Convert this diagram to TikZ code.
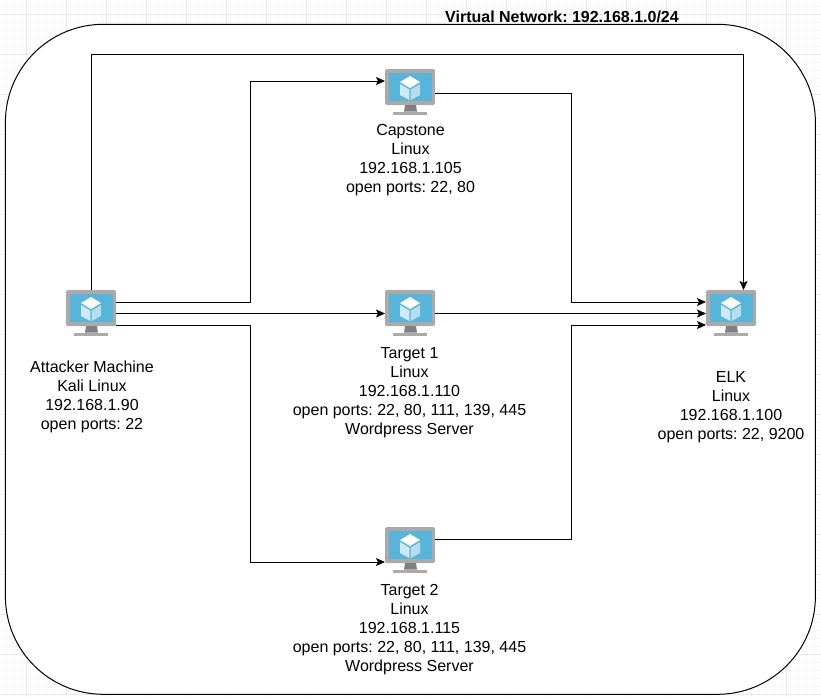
\documentclass[tikz,border=0pt]{standalone}
\usepackage{fontspec}
\setmainfont{Liberation Sans}
\usetikzlibrary{arrows.meta}
\definecolor{gridmajor}{RGB}{232,232,232}
\definecolor{gridminor}{RGB}{246,246,246}
\definecolor{screenblue}{RGB}{89,180,217}
\definecolor{bezel}{RGB}{170,170,170}
\definecolor{standgray}{RGB}{128,128,128}
\frenchspacing
\tikzset{
  x=1pt,y=-1pt,
  conn/.style={draw=black,line width=1pt,-{Stealth[length=9pt,width=8pt,inset=2pt]}},
  lbl/.style={align=center,font=\fontsize{16}{19}\selectfont,inner sep=0pt,text=black,anchor=north},
  host/.style={minimum width=50pt,minimum height=50pt,inner sep=0pt,draw=none},
  vnet/.style={draw=black,line width=1pt,fill=white,rounded corners=98pt},
}
\newcommand{\drawhost}[3]{%
  \node[host] (#1) at (#2,#3) {};
  \begin{scope}[shift={(#2,#3)}]
    \fill[bezel,rounded corners=1.5pt] (-25,-25) rectangle (25,11);
    \fill[screenblue] (-21,-21) rectangle (22,7);
    \fill[standgray] (-5,11) -- (6,11) -- (7,17.7) -- (-6,17.7) -- cycle;
    \fill[bezel] (-17,17.7) rectangle (17,20.7);
    \fill[white] (0,-18) -- (10,-12) -- (0,-6) -- (-10,-12) -- cycle;
    \fill[white!70!screenblue] (-10,-10) -- (-0.7,-4.5) -- (-0.7,6) -- (-10,1) -- cycle;
    \fill[white!55!screenblue] (10,-10) -- (0.7,-4.5) -- (0.7,6) -- (10,1) -- cycle;
  \end{scope}
}
\begin{document}
\begin{tikzpicture}
\useasboundingbox (0,0) rectangle (821,697);
\fill[white] (0,0) rectangle (821,697);
\begin{scope}
  \clip (0,0) rectangle (821,697);
  \foreach \g in {-2,6,...,830}{\draw[gridminor,line width=0.6pt] (\g,0) -- (\g,697);}
  \foreach \g in {-2,6,...,700}{\draw[gridminor,line width=0.6pt] (0,\g) -- (821,\g);}
  \foreach \g in {26,66,...,830}{\draw[gridmajor,line width=0.8pt] (\g,0) -- (\g,697);}
  \foreach \g in {14,54,...,700}{\draw[gridmajor,line width=0.8pt] (0,\g) -- (821,\g);}
\end{scope}
\node[vnet,minimum width=810pt,minimum height=670pt,inner sep=0pt] (net) at (410.4,359.3) {};
\node[font=\fontsize{16}{19}\selectfont\bfseries,inner sep=0pt] (title) at (562,17) {Virtual Network: 192.168.1.0/24};

\drawhost{att}{91}{315}
\drawhost{cap}{410}{94}
\drawhost{tgta}{410}{315}
\drawhost{tgtb}{410}{552}
\drawhost{elk}{731}{315}

\coordinate (attT) at (91.5,290);
\coordinate (attA) at (116,302);
\coordinate (attB) at (116,313.5);
\coordinate (attC) at (116,325);
\coordinate (capL) at (385,81);
\coordinate (capR) at (435,93);
\coordinate (ta) at (385,313.5);
\coordinate (taR) at (435,313.5);
\coordinate (tbL) at (385,562);
\coordinate (tbR) at (435,539);
\coordinate (elkT) at (743.5,290);
\coordinate (elkA) at (706,302);
\coordinate (elkB) at (706,313.5);
\coordinate (elkC) at (706,325);

\draw[conn] (attT) -- (91.5,54) -- (743.5,54) -- (elkT);
\draw[conn] (attA) -- (250,302) -- (250,81) -- (capL);
\draw[conn] (attB) -- (ta);
\draw[conn] (attC) -- (250,325) -- (250,562) -- (tbL);
\draw[conn] (capR) -- (571,93) -- (571,302) -- (elkA);
\draw[conn] (taR) -- (elkB);
\draw[conn] (tbR) -- (571,539) -- (571,325) -- (elkC);

\node[lbl] (attL) at (92,361) {Attacker Machine\\Kali Linux\\192.168.1.90\\open ports: 22};
\node[lbl] (capT) at (410.5,124) {Capstone\\Linux\\192.168.1.105\\open ports: 22, 80};
\node[lbl] (taT) at (409.5,347) {Target 1\\Linux\\192.168.1.110\\open ports: 22, 80, 111, 139, 445\\Wordpress Server};
\node[lbl] (tbT) at (409.5,584) {Target 2\\Linux\\192.168.1.115\\open ports: 22, 80, 111, 139, 445\\Wordpress Server};
\node[lbl] (elkL) at (731,371) {ELK\\Linux\\192.168.1.100\\open ports: 22, 9200};
\end{tikzpicture}
\end{document}
